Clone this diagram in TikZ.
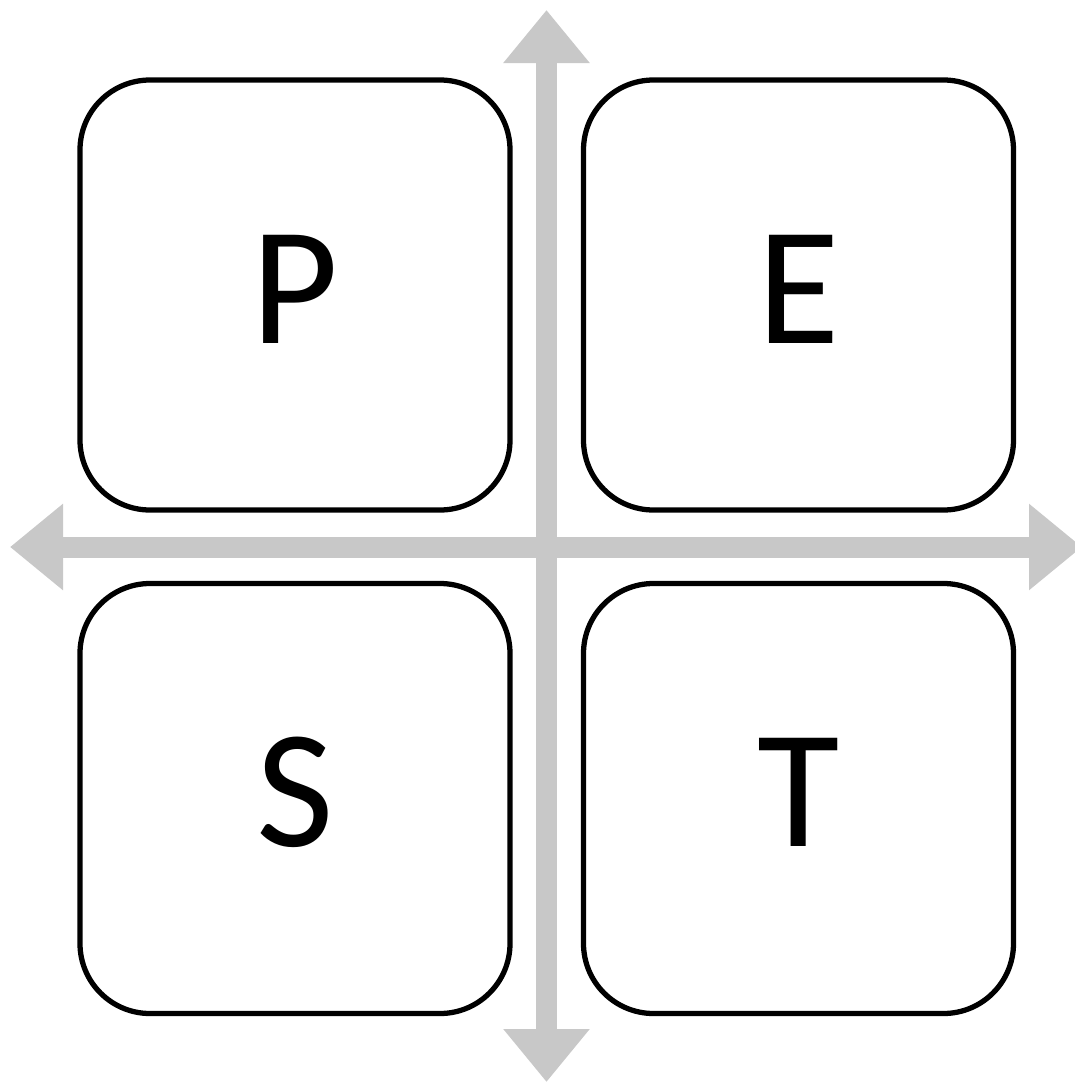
\documentclass[tikz,border=0pt]{standalone}
\usepackage{fontspec}
\setmainfont{Carlito}
\usepackage{tikz}
\usetikzlibrary{positioning,arrows.meta}
\definecolor{axisgray}{RGB}{200,200,200}

\begin{document}
\begin{tikzpicture}[
    node distance=0.735cm,
    quad/.style={rectangle, draw, line width=1.5pt, outer sep=0pt, minimum width=4.3cm, minimum height=4.3cm, rounded corners=0.7cm, font=\fontsize{48}{48}\selectfont, text height=1.08cm, text depth=0.12cm},
    axis/.style={{Triangle[length=0.53cm, width=0.83cm]}-{Triangle[length=0.53cm, width=0.83cm]}, line width=0.21cm, draw=axisgray, fill=axisgray}
]
    \useasboundingbox (0,0) rectangle (10.75,-10.82);

    % axes behind the boxes
    \coordinate (up) at (5.465,-0.10);
    \coordinate (down) at (5.465,-10.82);
    \coordinate (left) at (0.10,-5.47);
    \coordinate (right) at (10.82,-5.47);
    \draw[axis] (up) -- (down);
    \draw[axis] (left) -- (right);

    \node[quad] (pbox) at (2.95,-2.95) {P};
    \node[quad, right=of pbox] (ebox) {E};
    \node[quad, below=of pbox] (sbox) {S};
    \node[quad, right=of sbox] (tbox) {T};
\end{tikzpicture}
\end{document}
